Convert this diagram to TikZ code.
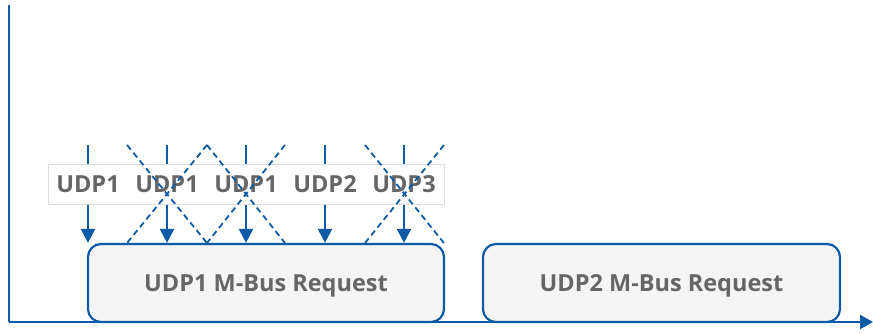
\documentclass[tikz,border=0pt]{standalone}
\usepackage{fontspec}
\setmainfont{Open Sans}
\usetikzlibrary{arrows.meta}
\definecolor{axblue}{HTML}{0D5AA7}
\definecolor{txtgray}{HTML}{666666}
\definecolor{boxfill}{HTML}{F5F5F5}
\definecolor{stripgray}{HTML}{DDDDDD}
\tikzset{
  lbl/.style={font=\bfseries\fontsize{23.5}{26}\selectfont, text=txtgray, inner sep=0pt},
  reqbox/.style={draw=axblue, line width=2.2pt, fill=boxfill, rounded corners=13pt,
    minimum height=78pt, font=\bfseries\fontsize{23.5}{26}\selectfont, text=txtgray, inner sep=0pt,
    text height=22pt, text depth=5pt},
  strip/.style={draw=stripgray, line width=0.8pt, fill=white, minimum width=396pt, minimum height=40pt, inner sep=0pt},
  udparrow/.style={draw=axblue, line width=2.2pt, -{Triangle[width=14pt,length=14pt]}},
  xline/.style={draw=axblue, line width=1.8pt, dash pattern=on 6pt off 4pt},
  axis/.style={draw=axblue, line width=2.4pt}
}
\begin{document}
\begin{tikzpicture}[x=1pt,y=-1pt]
\useasboundingbox (0,0) rectangle (873,333);
% axes
\coordinate (ytop) at (9,5);
\coordinate (orig) at (9,322);
\coordinate (xend) at (873,322);
\draw[axis] (ytop) -- (orig);
\draw[axis, -{Triangle[width=14pt,length=13pt]}] (orig) -- (xend);
% boxes
\node[reqbox, minimum width=356pt] (b1) at (266,283) {UDP1 M-Bus Request};
\node[reqbox, minimum width=357pt] (b2) at (661.5,283) {UDP2 M-Bus Request};
% arrow tops
\foreach \n/\x in {1/88,2/167,3/246,4/325,5/404}{
  \coordinate (t\n) at (\x,145);
  \draw[udparrow] (t\n) -- (t\n |- b1.north);
}
% strip
\node[strip] (s) at (246,184) {};
\node[lbl] (l1) at (88,184.5) {UDP1};
\node[lbl] (l2) at (167,184.5) {UDP1};
\node[lbl] (l3) at (246,184.5) {UDP1};
\node[lbl] (l4) at (325,184.5) {UDP2};
\node[lbl] (l5) at (404,184.5) {UDP3};
% dashed crosses
\foreach \n/\x in {a/127,b/207,c/285,d/365,e/444}{
  \coordinate (u\n) at (\x,145);
  \coordinate (w\n) at (\x,243);
}
\draw[xline] (ua) -- (wb);
\draw[xline] (ub) -- (wa);
\draw[xline] (ub) -- (wc);
\draw[xline] (uc) -- (wb);
\draw[xline] (ud) -- (we);
\draw[xline] (ue) -- (wd);
\end{tikzpicture}
\end{document}
